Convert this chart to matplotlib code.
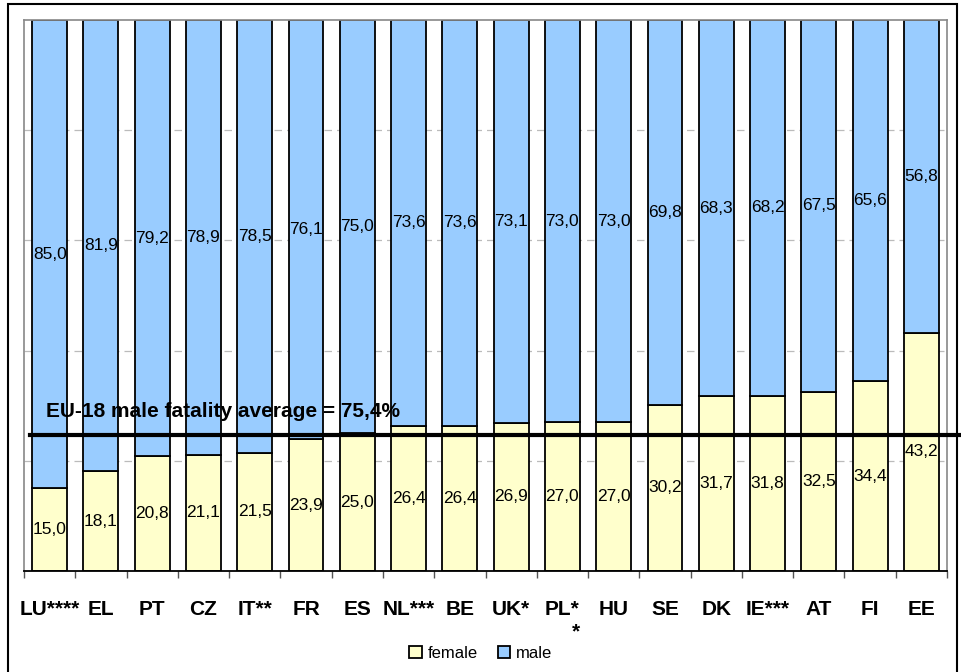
import numpy as np
import matplotlib.pyplot as plt
from matplotlib.patches import Rectangle
from matplotlib.ticker import FixedLocator, NullFormatter

plt.rcParams['font.family'] = ['Liberation Sans', 'DejaVu Sans']

countries = ['LU****', 'EL', 'PT', 'CZ', 'IT**', 'FR', 'ES', 'NL***', 'BE',
             'UK*', 'PL*\n*', 'HU', 'SE', 'DK', 'IE***', 'AT', 'FI', 'EE']
female = [15.0, 18.1, 20.8, 21.1, 21.5, 23.9, 25.0, 26.4, 26.4,
          26.9, 27.0, 27.0, 30.2, 31.7, 31.8, 32.5, 34.4, 43.2]
male = [85.0, 81.9, 79.2, 78.9, 78.5, 76.1, 75.0, 73.6, 73.6,
        73.1, 73.0, 73.0, 69.8, 68.3, 68.2, 67.5, 65.6, 56.8]
eu_male_avg = 75.4

def fmt(v):
    return f"{v:.1f}".replace('.', ',')

fig = plt.figure(figsize=(9.62, 6.72), dpi=100)
ax = fig.add_axes([24/962, 1 - 571/672, (947 - 24)/962, (571 - 20)/672])

x = np.arange(len(countries))
w = 0.68
b1 = ax.bar(x, female, w, color='#FFFFCC', edgecolor='black', linewidth=1.3,
            label='female', zorder=2)
b2 = ax.bar(x, male, w, bottom=female, color='#99CCFF', edgecolor='black',
            linewidth=1.3, label='male', zorder=2)

for i in range(len(countries)):
    ax.text(x[i], female[i] / 2, fmt(female[i]), ha='center', va='center',
            fontsize=12.5, zorder=4)
    ax.text(x[i], female[i] + male[i] / 2, fmt(male[i]), ha='center', va='center',
            fontsize=12.5, zorder=4)

# EU average line, runs past the right edge of the plot area
avg_y = 100 - eu_male_avg
ax.plot([-0.38, 17.9], [avg_y, avg_y], color='black', lw=3, clip_on=False, zorder=5)
ax.annotate('EU-18 male fatality average = ' + fmt(eu_male_avg) + '%',
            xy=(-0.07, avg_y), xytext=(0, 13), textcoords='offset points',
            fontsize=15, fontweight='bold', ha='left', va='baseline', zorder=6)

ax.set_xlim(-0.5, len(countries) - 0.5)
ax.set_ylim(0, 100)
ax.set_yticks([20, 40, 60, 80])
ax.yaxis.grid(True, color='#BBBBBB', linestyle=(0, (6, 4)), linewidth=0.9)
ax.set_axisbelow(True)
ax.tick_params(axis='y', left=False, labelleft=False)

ax.set_xticks(x)
ax.set_xticklabels(countries, fontsize=15, fontweight='bold', va='top',
                   multialignment='right')
ax.tick_params(axis='x', which='major', length=0, pad=21)
ax.xaxis.set_minor_locator(FixedLocator(np.arange(-0.5, len(countries), 1)))
ax.xaxis.set_minor_formatter(NullFormatter())
ax.tick_params(axis='x', which='minor', length=5, width=1, color='#555555',
               direction='out')

for s in ['left', 'top', 'right']:
    ax.spines[s].set_color('#888888')
    ax.spines[s].set_linewidth(1.2)
ax.spines['bottom'].set_color('black')
ax.spines['bottom'].set_linewidth(1.3)

fig.legend(handles=[b1, b2], labels=['female', 'male'], loc='center',
           bbox_to_anchor=(0.5, 1 - 653/672), ncol=2, frameon=False,
           fontsize=12, handlelength=0.75, handleheight=0.75,
           handletextpad=0.35, columnspacing=1.2)

# outer chart frame
fig.patches.append(Rectangle((8/962, -0.02), (957 - 8)/962, 1 - 4/672 + 0.02,
                             transform=fig.transFigure, fill=False,
                             edgecolor='black', linewidth=1.5))

fig.savefig('out.png', dpi=100)
